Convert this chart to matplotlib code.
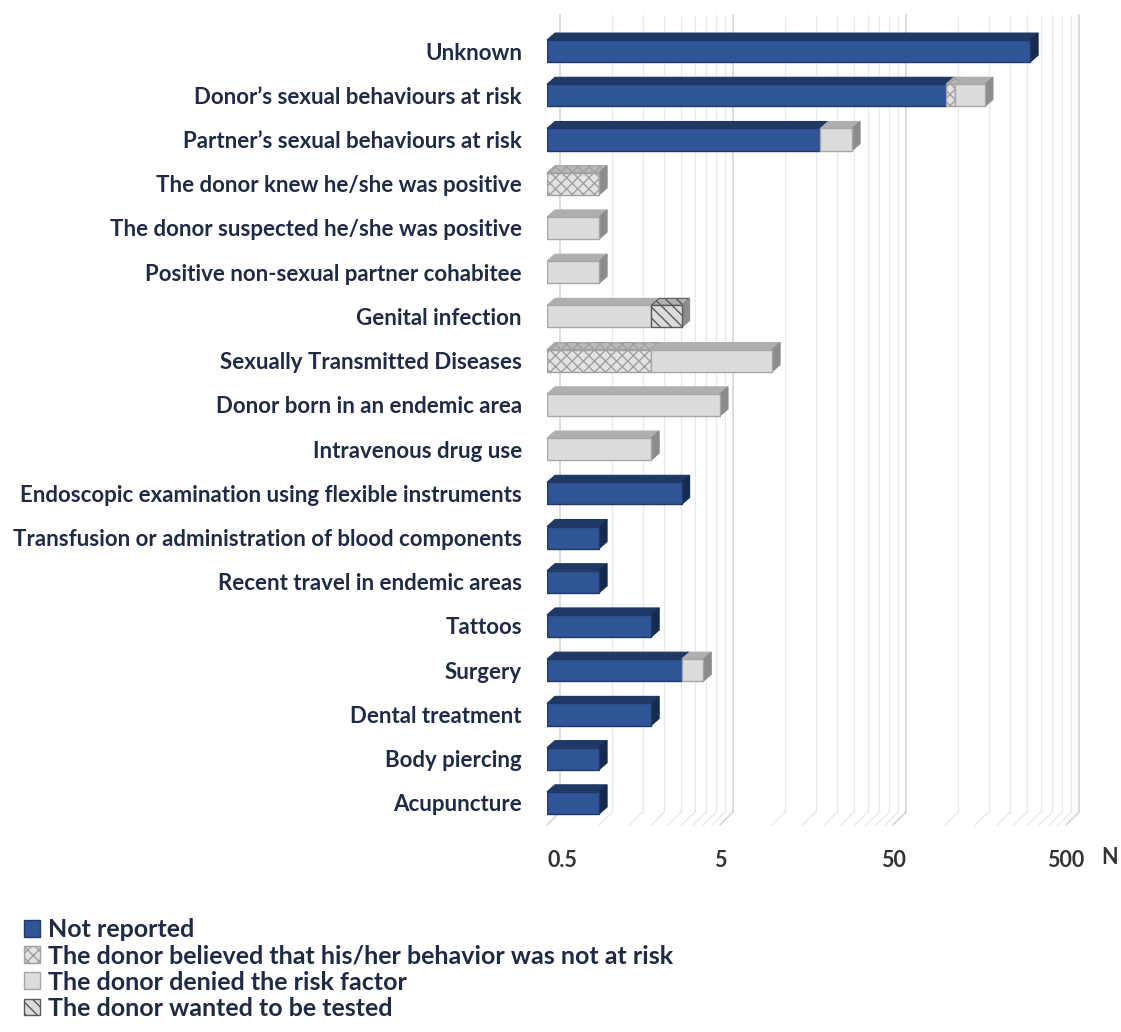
import matplotlib
matplotlib.use("Agg")
import matplotlib.pyplot as plt
from matplotlib.patches import Polygon, Patch
from matplotlib.lines import Line2D
from matplotlib.transforms import IdentityTransform
import numpy as np

# ---------------- data ----------------
categories = [
    "Unknown",
    "Donor\u2019s sexual behaviours at risk",
    "Partner\u2019s sexual behaviours at risk",
    "The donor knew he/she was positive",
    "The donor suspected he/she was positive",
    "Positive non-sexual partner cohabitee",
    "Genital infection",
    "Sexually Transmitted Diseases",
    "Donor born in an endemic area",
    "Intravenous drug use",
    "Endoscopic examination using flexible instruments",
    "Transfusion or administration of blood components",
    "Recent travel in endemic areas",
    "Tattoos",
    "Surgery",
    "Dental treatment",
    "Body piercing",
    "Acupuncture",
]
not_reported = [310, 101, 19, 0, 0, 0, 0, 0, 0, 0, 3, 1, 1, 2, 3, 2, 1, 1]
believed_not_risk = [0, 13, 0, 1, 0, 0, 0, 2, 0, 0, 0, 0, 0, 0, 0, 0, 0, 0]
denied = [0, 56, 10, 0, 1, 1, 2, 8, 5, 2, 0, 0, 0, 0, 1, 0, 0, 0]
wanted_test = [0, 0, 0, 0, 0, 0, 1, 0, 0, 0, 0, 0, 0, 0, 0, 0, 0, 0]
series_names = [
    "Not reported",
    "The donor believed that his/her behavior was not at risk",
    "The donor denied the risk factor",
    "The donor wanted to be tested",
]
tick_values = [0.5, 5, 50, 500]
tick_labels = ["0.5", "5", "50", "500"]

# ---------------- styles ----------------
styles = [
    dict(face="#2F5597", edge="#1F3864", top="#1F3864", side="#172B50", hatch=None),
    dict(face="#E2E2E2", edge="#A0A0A0", top="#B8B8B8", side="#8C8C8C", hatch="xxx"),
    dict(face="#DCDCDC", edge="#A6A6A6", top="#AFAFAF", side="#8C8C8C", hatch=None),
    dict(face="#DCDCDC", edge="#5A5A5A", top="#B0B0B0", side="#8C8C8C", hatch="\\\\\\"),
]
label_color = "#1F2A44"
FONT = ["Lato", "DejaVu Sans"]

W, H, DPI = 1121, 1032, 100
fig = plt.figure(figsize=(W / DPI, H / DPI), dpi=DPI)
fig.patch.set_facecolor("white")
ax = fig.add_axes([547 / W, 1 - 825 / H, (1066 - 547) / W, (825 - 29) / H])
ax.patch.set_visible(False)
ax.set_xscale("log")
ax.set_xlim(0.5, 500)
n = len(categories)
ax.set_ylim(n - 0.5, -0.5)
for s in ax.spines.values():
    s.set_visible(False)

# ---------------- back wall grid (3D look) ----------------
T = ax.transData
ident = IdentityTransform()
wall_dx, wall_dy = 13, 13
y_floor = ax.transAxes.transform((0, 0))[1]
y_walltop = H - 15
grid_vals = []
for dec in [0.5, 5, 50]:
    for k in range(1, 10):
        grid_vals.append(dec * k)
grid_vals.append(500)
for gv in grid_vals:
    X = T.transform((gv, 0))[0]
    major = any(np.isclose(gv, tv) for tv in tick_values)
    col = "#D2D2D2" if major else "#E8E8E8"
    lw = 1.1 if major else 0.9
    ax.add_line(Line2D([X + wall_dx, X + wall_dx], [y_floor + wall_dy, y_walltop],
                       transform=ident, color=col, lw=lw, clip_on=False, zorder=0.5))
    ax.add_line(Line2D([X, X + wall_dx], [y_floor, y_floor + wall_dy],
                       transform=ident, color=col, lw=lw, clip_on=False, zorder=0.5))

# ---------------- 3D stacked bars ----------------
series = [not_reported, believed_not_risk, denied, wanted_test]
bar_h = 0.5
dx, dy = 8, 7
y = np.arange(n)
for i in range(n):
    start = 0.5
    segs = []
    cum = 0
    for si, ser in enumerate(series):
        v = ser[i]
        if v > 0:
            cum += v
            segs.append((si, start, cum))
            start = cum
    for j, (si, x0, x1) in enumerate(segs):
        st = styles[si]
        ax.barh(y[i], x1 - x0, left=x0, height=bar_h, color=st["face"],
                edgecolor=st["edge"], hatch=st["hatch"], linewidth=1.0, zorder=3)
        X0, Yb = T.transform((x0, y[i] + bar_h / 2))
        X1, Yt = T.transform((x1, y[i] - bar_h / 2))
        top = Polygon([(X0, Yt), (X1, Yt), (X1 + dx, Yt + dy), (X0 + dx, Yt + dy)],
                      closed=True, transform=ident, facecolor=st["top"],
                      edgecolor=st["edge"] if st["hatch"] else st["top"],
                      hatch=st["hatch"], lw=0.8, zorder=2, clip_on=False)
        ax.add_patch(top)
        if j == len(segs) - 1:
            side = Polygon([(X1, Yb), (X1, Yt), (X1 + dx, Yt + dy), (X1 + dx, Yb + dy)],
                           closed=True, transform=ident, facecolor=st["side"],
                           edgecolor=st["side"], lw=0.8, zorder=2, clip_on=False)
            ax.add_patch(side)

# ---------------- axes text ----------------
ax.set_yticks(y)
ax.set_yticklabels(categories, fontsize=16, fontweight="bold", color=label_color,
                   family=FONT)
ax.set_xticks(tick_values)
ax.set_xticklabels(tick_labels, fontsize=15.5, fontweight="bold", color="#333333",
                   family=FONT)
ax.get_xticklabels()[0].set_horizontalalignment("left")
ax.xaxis.set_minor_locator(matplotlib.ticker.NullLocator())
ax.tick_params(axis="y", length=0, pad=18)
ax.tick_params(axis="x", length=0, pad=18)
ax.text(1110 / W, 1 - 857 / H, "N", transform=fig.transFigure, fontsize=15.5,
        fontweight="bold", color="#333333", family=FONT, ha="center", va="center")

# ---------------- legend ----------------
handles = [Patch(facecolor=st["face"], edgecolor=st["edge"], hatch=st["hatch"])
           for st in styles]
leg = fig.legend(handles, series_names, loc="upper left",
                 bbox_to_anchor=(24 / W, 1 - 918 / H), frameon=False,
                 prop=dict(family=FONT, weight="bold", size=18),
                 handlelength=0.65, handleheight=0.65, handletextpad=0.3,
                 labelspacing=0.13, borderpad=0, borderaxespad=0)
for t in leg.get_texts():
    t.set_color(label_color)

fig.savefig("out.png", dpi=DPI, facecolor="white")
